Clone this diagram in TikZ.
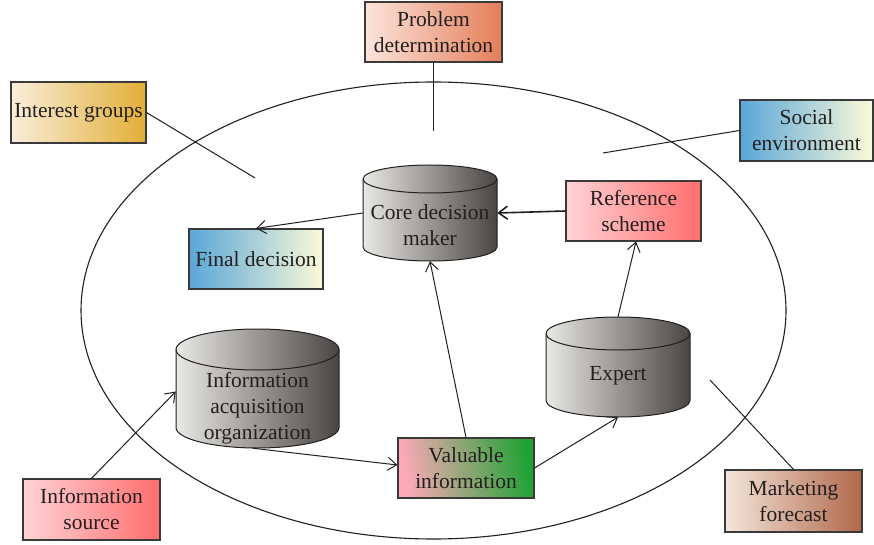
\documentclass[tikz,border=0pt]{standalone}
\usepackage{fontspec}
\setmainfont{Liberation Serif}
\usetikzlibrary{arrows.meta,calc}

\definecolor{ink}{HTML}{231F20}
\definecolor{edge}{HTML}{3A3A3A}
\definecolor{drumL}{HTML}{E8E8E4}
\definecolor{drumR}{HTML}{4A4542}
\definecolor{probL}{HTML}{FBE4DC}
\definecolor{probR}{HTML}{E47E58}
\definecolor{goldL}{HTML}{F9EEDA}
\definecolor{goldR}{HTML}{E2AE36}
\definecolor{skyL}{HTML}{5AA7D8}
\definecolor{skyR}{HTML}{FBFAD8}
\definecolor{roseL}{HTML}{FFD3D6}
\definecolor{roseR}{HTML}{FF6E6E}
\definecolor{valL}{HTML}{FCAAB8}
\definecolor{valR}{HTML}{1FA234}
\definecolor{mktL}{HTML}{F3E6DA}
\definecolor{mktR}{HTML}{B0674A}

\tikzset{
  x=1pt, y=1pt,
  every node/.style={font=\fontsize{21.5}{26}\selectfont, text=ink, align=center},
  card/.style={draw=edge, line width=1.1pt, minimum width=#1, minimum height=60pt, inner sep=1pt},
  card/.default=136pt,
  drumtext/.style={inner sep=0pt},
  drumhit/.style={inner sep=0pt},
  link/.style={draw=ink, line width=1pt},
  flow/.style={link, -{Straight Barb[length=9pt,width=13pt]}},
}

% cylinder: centre x, top y, bottom y, half width, end radius
\newcommand\drumbody[5]{%
  \path[draw=ink, line width=1pt, left color=drumL, right color=drumR]
    (#1-#4, #2-#5) -- (#1-#4, #3+#5)
    arc[start angle=180, end angle=360, x radius=#4pt, y radius=#5pt]
    -- (#1+#4, #2-#5)
    arc[start angle=0, end angle=180, x radius=#4pt, y radius=#5pt] -- cycle;
  \draw[ink, line width=1pt] (#1-#4, #2-#5)
    arc[start angle=180, end angle=360, x radius=#4pt, y radius=#5pt];
}

\begin{document}
\begin{tikzpicture}
\useasboundingbox (0,0) rectangle (874,544);

% outer boundary
\draw[ink, line width=1.1pt] (433.5,233.5) ellipse[x radius=352.5pt, y radius=228.5pt];

% cylinders
\drumbody{430}{379}{283}{67}{14}
\node[drumhit, minimum width=134pt, minimum height=96pt] (core) at (430,331) {};
\node[drumtext] at (430,318.5) {Core decision\\maker};

\drumbody{257.5}{215}{96}{81.5}{20.5}
\node[drumhit, minimum width=163pt, minimum height=119pt] (acq) at (257.5,155.5) {};
\node[drumtext] at (257.5,136) {Information\\acquisition\\organization};

\drumbody{618}{227}{127}{72}{16.5}
\node[drumhit, minimum width=144pt, minimum height=100pt] (expert) at (618,177) {};
\node[drumtext] at (618,168) {Expert};

% boxes
\node[card=137pt, left color=probL, right color=probR] (prob) at (433.5,512) {Problem\\determination};
\node[card=135pt, minimum height=61pt, left color=goldL, right color=goldR] (interest) at (78.5,431.5) {Interest groups};
\node[card=133pt, minimum height=61pt, left color=skyL, right color=skyR] (social) at (806.5,413.5) {Social\\environment};
\node[card=134pt, left color=skyL, right color=skyR] (final) at (256,285) {Final decision};
\node[card=135pt, left color=roseL, right color=roseR] (ref) at (633.5,333) {Reference\\scheme};
\node[card=136pt, left color=valL, right color=valR, shading angle=100] (val) at (466,76) {Valuable\\information};
\node[card=137pt, minimum height=61pt, left color=roseL, right color=roseR] (source) at (91.5,34.5) {Information\\source};
\node[card=137pt, minimum height=62pt, left color=mktL, right color=mktR] (market) at (793.5,43) {Marketing\\forecast};

% free ends of the plain links
\coordinate (probEnd) at (433.5,413);
\coordinate (interestEnd) at (255,366);
\coordinate (socialEnd) at (603,391);
\coordinate (marketEnd) at (710,164);

% plain links
\draw[link] (prob.south) -- (probEnd);
\draw[link] (interest.east) -- (interestEnd);
\draw[link] (social.west) -- (socialEnd);
\draw[link] (market.north) -- (marketEnd);

% arrows
\draw[flow] (source.north) -- ([yshift=-3pt]acq.west);
\draw[flow] ([xshift=-5pt]acq.south) -- ([yshift=3pt]val.west);
\draw[flow] (val.north) -- (core.south);
\draw[flow] (val.east) -- (expert.south);
\draw[flow] (expert.north) -- ([xshift=2.5pt]ref.south);
\draw[flow] (core.west) -- (final.north);
\draw[flow, line width=1.6pt] (ref.west) -- (core.east);
\end{tikzpicture}
\end{document}
